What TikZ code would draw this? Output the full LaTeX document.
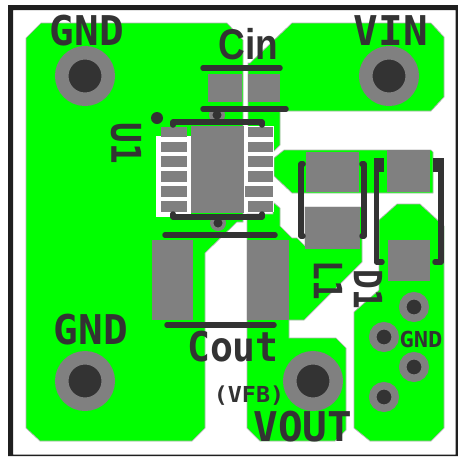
\documentclass[tikz,border=0pt]{standalone}
\usepackage{fontspec}
\newfontfamily\silkfont{DejaVu Sans Mono}
\newfontfamily\silkplain{Liberation Sans}
\definecolor{copper}{HTML}{00FF00}
\definecolor{padgray}{HTML}{808080}
\definecolor{silkdark}{HTML}{333333}
\begin{document}
\begin{tikzpicture}
[x=1pt,y=-1pt,
  copperdecorate/.style={fill=copper,draw=black!30,line width=0.7pt},%
  paddecorate/.style={fill=padgray,draw=none},%
  silkdecorate/.style={draw=silkdark,line width=5.5pt,line cap=round,line join=round},%
  blockdecorate/.style={fill=silkdark,draw=none},%
  bigvia/.style={shape=circle,inner sep=0pt,minimum size=46.5pt,fill=silkdark,draw=padgray,line width=13.5pt},%
  midvia/.style={shape=circle,inner sep=0pt,minimum size=22.5pt,fill=silkdark,draw=padgray,line width=7.5pt},%
  tinyvia/.style={shape=circle,inner sep=0pt,minimum size=12.5pt,fill=silkdark,draw=padgray,line width=3.5pt},%
  silktext/.style={inner sep=0pt,text=silkdark,font=\silkfont\bfseries\fontsize{41}{41}\selectfont},%
  silkround/.style={inner sep=0pt,text=silkdark,font=\silkplain\bfseries\fontsize{43}{43}\selectfont},%
  silksmall/.style={inner sep=0pt,text=silkdark,font=\silkfont\bfseries\fontsize{22}{22}\selectfont}]
\useasboundingbox (0,0) rectangle (458,456);
%% board outline
\fill[white] (0,0) rectangle (458,456);
\fill[black!88,even odd rule] (8,5) rectangle (458,456) (13,10) rectangle (455.5,454.5);
%% copper areas
\path[copperdecorate] (41,23) -- (227,23) -- (243,40) -- (243,222) -- (237,222) -- (205,253) -- (205,428)
  -- (192,441) -- (40,441) -- (26,428) -- (26,38) -- cycle;
\path[copperdecorate] (292,23) -- (431,23) -- (444,37) -- (444,97) -- (431,111) -- (297,111) -- (280,111)
  -- (280,145) -- (274,151) -- (248,151) -- (248,63) -- (250,63) -- cycle;
\path[copperdecorate] (284,150) -- (431,150) -- (433,152) -- (433,193) -- (292,193) -- (274,176) -- (274,158) -- cycle;
\path[copperdecorate] (247,214) -- (273,214) -- (273,202) -- (280,208) -- (280,226) -- (292,238) -- (297,238)
  -- (305,246) -- (305,207) -- (362,207) -- (362,262) -- (304,320) -- (289,320) -- (289,338) -- (336,338)
  -- (346,348) -- (346,430) -- (335,441) -- (260,441) -- (247,428) -- cycle;
\path[copperdecorate] (397,204) -- (420,204) -- (444,226) -- (444,428) -- (431,441) -- (370,441) -- (354,428)
  -- (354,312) -- (379,290) -- (379,220) -- cycle;
%% clearance round the chip
\fill[white] (156,136) rectangle (191,217);
\fill[white] (244,126) rectangle (274,212);
%% pads
\foreach \xa/\ya/\xb/\yb in {208/74/242/102, 248/74/280/102, 191/126/244/213, 152/240/193/320, 247/240/289/320,
  306/152/359/192, 305/207/360/249, 387/150/430/192, 388/240/430/281, 245/186/273/197} {
  \fill[paddecorate] (\xa,\yb) rectangle (\xb,\ya);
}
\foreach \ya/\yb in {127/137, 142/152, 156/167, 171/182, 186/197, 201/212} {
  \fill[paddecorate] (161,\ya) rectangle (187,\yb);
  \fill[paddecorate] (248,\ya) rectangle (273,\yb);
}
%% vias
\foreach \nodename/\x/\y in {gndupper/85/76, vin/389/76, gndlower/85/381, vout/313/381} {
  \node (\nodename) at (\x,\y) [bigvia] {};
}
\foreach \nodename/\x/\y in {gnda/414/307, gndb/384/337, gndc/414/367, gndd/384/397} {
  \node (\nodename) at (\x,\y) [midvia] {};
}
\foreach \nodename/\x/\y in {viachipa/217/115, viachipb/218/223} {
  \node (\nodename) at (\x,\y) [tinyvia] {};
}
%% silk lines
\foreach \xa/\ya/\xb/\yb in {203/68/280/68, 203/109/286/109, 165/235/275/235, 167/325/274/325} {
  \draw[silkdecorate] (\xa,\ya) -- (\xb,\yb);
}
\draw[silkdecorate] (173,125) -- (173,122) -- (262,122) -- (262,125);
\draw[silkdecorate] (173,214) -- (173,217) -- (262,217) -- (262,214);
\draw[silkdecorate] (303,164) -- (301,164) -- (301,236) -- (303,236);
\draw[silkdecorate] (362,164) -- (364,164) -- (364,236) -- (362,236);
\draw[silkdecorate] (376.5,165) -- (376.5,262) -- (382,262);
\draw[silkdecorate] (441,165) -- (441,262) -- (435,262);
\fill[blockdecorate] (374,158) rectangle (384,172);
\fill[blockdecorate] (433,158) rectangle (444,172);
\node (chipdot) at (157,118) [shape=circle,inner sep=0pt,minimum size=12pt,fill=silkdark] {};
%% labels
\node (gndupperlabel) at (87,31) [silktext] {GND};
\node (vinlabel) at (391,31) [silktext] {VIN};
\node (cinlabel) at (248.5,44) [silkround,xscale=0.86] {Cin};
\node (coutlabel) at (233,347) [silktext,xscale=0.93] {Cout};
\node (gndlowerlabel) at (91,330) [silktext] {GND};
\node (voutlabel) at (303,427) [silktext] {VOUT};
\node (vfblabel) at (249,396) [silksmall,xscale=1.06] {(VFB)};
\node (gndsmalllabel) at (421,339) [silksmall,xscale=1.08] {GND};
\node (uonelabel) at (126,143) [silktext,rotate=-90,xscale=0.84] {U1};
\node (lonelabel) at (328,280) [silktext,rotate=-90,xscale=0.8,yscale=0.95] {L1};
\node (donelabel) at (368,289) [silktext,rotate=-90,xscale=0.8,yscale=0.95] {D1};
\end{tikzpicture}
\end{document}
